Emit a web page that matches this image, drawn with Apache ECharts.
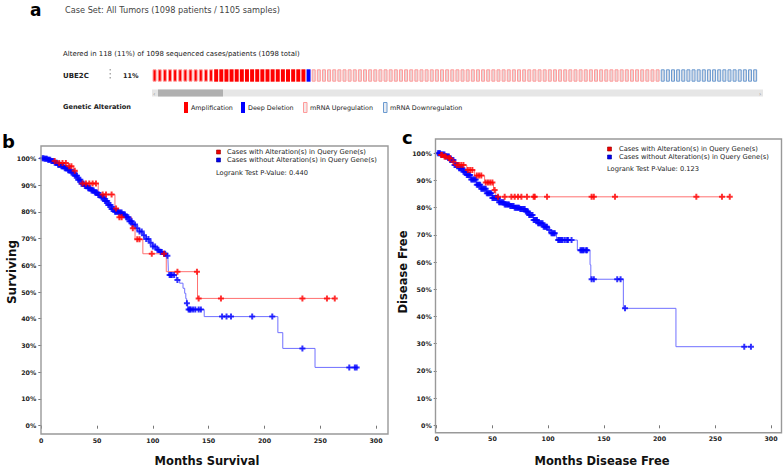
<!DOCTYPE html>
<html><head><meta charset="utf-8">
<script src="https://cdn.jsdelivr.net/npm/echarts@6/dist/echarts.min.js"></script>
<style>html,body{margin:0;padding:0;background:#fff}#c{width:784px;height:466px}</style>
</head><body><div id="c"></div>
<script>
// ---------- DATA ----------
// Oncoprint: alteration type and number of cases (118 altered)
const oncoTypes = ['ampUp', 'amp', 'deepDel', 'mrnaUp', 'mrnaDown'];
const oncoCounts = [12, 18, 1, 68, 19];

const legendA = ['Amplification', 'Deep Deletion', 'mRNA Upregulation', 'mRNA Downregulation'];
const seriesNames = ['Cases with Alteration(s) in Query Gene(s)', 'Cases without Alteration(s) in Query Gene(s)'];

const yTicks = [0, 10, 20, 30, 40, 50, 60, 70, 80, 90, 100];
const xTicks = [0, 50, 100, 150, 200, 250, 300];

// Panel b: overall survival (months, % surviving)
const bRedSteps = [[0,100],[9,99],[14,98.2],[24,97],[29,95.3],[32,92.5],[34,90.6],[51,86.5],[66,81.2],[69,78],[81,73.8],[84,69.7],[91,64.3],[112,57.6],[140,47.6],[263,47.6]];
const bRedCensor = [12,16,19,22,25,27,30,37,40,43,46,49,55,58,63,67,70,72,82,86,88,99,110,122,139.5,141,161,234,256,263];
const bBlueSteps = [[0,100],[3,99.8],[6,99.5],[9,99],[12,98.3],[15,97.6],[18,97],[21,96.3],[24,95.5],[27,94.7],[30,93.5],[33,92],[36,90.5],[39,89.6],[42,88.8],[45,88],[48,87.2],[51,86.3],[54,85.3],[57,84],[60,82.5],[63,81],[66,80],[70,79.7],[73,79],[76,78],[79,76.5],[82,75.2],[85,73.8],[88,72.6],[91,71.2],[94,69.8],[97,68.4],[100,67],[103,65.8],[106,65],[109,64.3],[112,63.6],[113.5,62.3],[114,56.4],[121,54.5],[124,53.3],[127,51.4],[128.5,49.5],[129.5,47.5],[130.3,45.8],[131.2,43.5],[146,40.8],[212,34.8],[216.4,28.9],[245.3,21.8],[282.6,21.8]];
const bBlueCensor = [1,2,3,4,5,6,7,8,9,10,11,12,13,14,15,16,17,18,19,20,21,22,23,24,25,26,27,28,29,30,31,32,33,34,35,36,37,38,39,40,41,42,43,44,45,46,47,48,49,50,51,52,53,54,55,56,57,58,59,60,61,62,63,64,65,66,67,68,69,70,71,72,73,74,75,76,77,78,79,80,81,82,84,86,88,90,92,94,96,98,100,102,104,105,107,108,110,111,113,115,116,117,119,122,130.5,132,133,134,136,138,141,143,162,166,170,189,207,234,276,281,282.6];

// Panel c: disease free (months, % disease free)
const cRedSteps = [[0,100],[3,99.4],[6,98.8],[10,98.2],[14,96.9],[17,95.7],[27,93.9],[34,91.8],[43,89.3],[51,86.5],[53,84],[263,84]];
const cRedCensor = [4,5,7,8,11,12,15,18,20,22,24,28,30,32,36,38,40,44,46,48,50,52,55,61,67,70,73,76,81,87,88,99,139,141,160,233,256,263];
const cBlueSteps = [[0,100],[4,99.6],[8,98.8],[12,97.5],[16,95.7],[20,94.5],[24,93.2],[27,92],[31,90.4],[36,88.4],[40,87],[45,85.3],[50,83.6],[56,82],[61,81.2],[66,80.6],[70,80],[75,79.5],[80,78.6],[83,77.3],[87,75.5],[91,74.3],[96,73],[100,71.8],[102,70.6],[107.5,68.1],[126.2,64.4],[137.6,59],[138.3,53.7],[167.5,43],[214.7,28.9],[282,28.9]];
const cBlueCensor = [1,2,3,4,5,6,7,8,9,10,11,12,13,14,15,16,17,18,19,20,21,22,23,24,25,26,27,28,29,30,31,32,33,34,35,36,37,38,39,40,41,42,43,44,45,46,47,48,49,50,51,52,53,54,55,56,57,58,59,60,61,62,63,64,65,66,67,68,69,70,71,72,73,74,75,76,77,78,79,80,81,82,83,84,85,86,87,88,89,90,91,92,93,94,95,96,97,98,99,101,103,104,105,106,109,110,111,112,113,115,117,118,121,129,130,131,132,134,135,139,141,162,165,169,276,282];

// ---------- RENDER ----------
const FONT = 'DejaVu Sans';
const styleOf = {
  ampUp:   {color:'#ff0000', borderColor:'#ff9a9a', borderWidth:1},
  amp:     {color:'#ff0000', borderColor:'#ff0000', borderWidth:0},
  deepDel: {color:'#0000ff', borderColor:'#0000ff', borderWidth:0},
  mrnaUp:  {color:'#ead6d6', borderColor:'#ff9a9a', borderWidth:1},
  mrnaDown:{color:'#d6dce6', borderColor:'#6b9ad0', borderWidth:1}
};
const oncoData = [];
oncoTypes.forEach((t, i) => { for (let k = 0; k < oncoCounts[i]; k++) oncoData.push({value:1, itemStyle:styleOf[t]}); });
const oncoCats = oncoData.map((d, i) => 'c' + i);

function stepAt(steps, t) {
  let v = steps[0][1];
  for (const s of steps) { if (s[0] <= t) v = s[1]; else break; }
  return v;
}
const censorPts = (steps, times) => times.map(t => [t, stepAt(steps, t)]);
const PLUS = 'path://M-1,-3H1V-1H3V1H1V3H-1V1H-3V-1H-1Z';

const tickLabel = {fontFamily:FONT, fontWeight:'bold', fontSize:6.3, color:'#222'};
function xAx(gi, max, off) {
  return {gridIndex:gi, type:'value', min:0, max:max, interval:50, offset:off,
    axisLine:{show:false}, splitLine:{show:false},
    axisTick:{show:true, length:3, lineStyle:{color:'#777'}, customValues: xTicks},
    axisLabel:Object.assign({margin:3, customValues: xTicks, formatter: v => String(v)}, tickLabel)};
}
function yAx(gi) {
  return {gridIndex:gi, type:'value', min:0, max:100, interval:10,
    axisLine:{show:false}, splitLine:{show:false},
    axisTick:{show:true, length:3, lineStyle:{color:'#777'}},
    axisLabel:Object.assign({margin:5, formatter: v => v + '%'}, tickLabel)};
}
function lineS(xi, steps, col) {
  return {type:'line', xAxisIndex:xi, yAxisIndex:xi, data:steps, step:'end', showSymbol:false,
    lineStyle:{color:col, width:1}, silent:true, animation:false, z:2};
}
function scatS(xi, pts, col) {
  return {type:'scatter', xAxisIndex:xi, yAxisIndex:xi, data:pts, symbol:PLUS, symbolSize:6,
    itemStyle:{color:col}, silent:true, animation:false, z:3};
}
function T(x, y, s, size, extra) {
  return {type:'text', x:x, y:y, style:Object.assign({text:s, fontFamily:FONT, fontSize:size, fill:'#222', textVerticalAlign:'middle'}, extra||{})};
}
function sq(x, y, w, h, fill, stroke, lw) {
  return {type:'rect', shape:{x:x, y:y, width:w, height:h}, style:{fill:fill, stroke:stroke||null, lineWidth:lw||0}};
}
const B = {fontWeight:'bold'};
const LEG = 6.7;

const graphics = [
  // panel a
  T(30, 10, 'a', 17, {fontWeight:'bold', fill:'#000'}),
  T(65, 10, 'Case Set: All Tumors (1098 patients / 1105 samples)', 8.2, {fill:'#444'}),
  T(63, 54, 'Altered in 118 (11%) of 1098 sequenced cases/patients (1098 total)', 6.95),
  T(63, 76, 'UBE2C', 7, B),
  T(123, 76, '11%', 6.5, B),
  sq(109.5, 69, 1.5, 1.5, '#aaa'), sq(109.5, 73, 1.5, 1.5, '#aaa'), sq(109.5, 77, 1.5, 1.5, '#aaa'),
  sq(152, 89.5, 611, 7, '#e6e6e6'),
  sq(158, 89.5, 65, 7, '#b0b0b0'),
  T(153, 93, '‹', 6, {fill:'#888'}),
  T(759, 93, '›', 6, {fill:'#888'}),
  T(63, 107, 'Genetic Alteration', 6.6, B),
  sq(184, 102, 4, 11, '#ff0000'),
  T(191, 108, legendA[0], 6.4),
  sq(241, 102, 4, 11, '#0000ff'),
  T(248, 108, legendA[1], 6.4),
  sq(303.5, 102.5, 3.5, 10, '#f4e8e8', '#ff9a9a', 1),
  T(310, 108, legendA[2], 6.4),
  sq(383.5, 102.5, 3.5, 10, '#e8ecf2', '#6b9ad0', 1),
  T(390, 108, legendA[3], 6.4),
  // panel b
  T(2, 141, 'b', 18, {fontWeight:'bold', fill:'#000'}),
  {type:'rect', shape:{x:41, y:146, width:347, height:288}, style:{fill:null, stroke:'#999', lineWidth:1.4}, z:10},
  sq(216.5, 150, 4, 4, '#ee0000', '#990000', 0.6),
  T(227, 152.3, seriesNames[0], LEG),
  sq(216.5, 158, 4, 4, '#0000ee', '#000099', 0.6),
  T(227, 160.3, seriesNames[1], LEG),
  T(216, 172.5, 'Logrank Test P-Value: 0.440', LEG),
  {type:'text', x:12, y:272, rotation:Math.PI/2, style:{text:'Surviving', fontFamily:FONT, fontWeight:'bold', fontSize:12, fill:'#111', textAlign:'center', textVerticalAlign:'middle'}},
  T(207, 460.5, 'Months Survival', 11.5, {fontWeight:'bold', fill:'#111', textAlign:'center'}),
  // panel c
  T(402, 137, 'c', 18, {fontWeight:'bold', fill:'#000'}),
  {type:'rect', shape:{x:435.5, y:139, width:346, height:293.7}, style:{fill:null, stroke:'#999', lineWidth:1.4}, z:10},
  sq(607.5, 147, 4, 4, '#ee0000', '#990000', 0.6),
  T(619, 149, seriesNames[0], LEG),
  sq(607.5, 155, 4, 4, '#0000ee', '#000099', 0.6),
  T(619, 157.3, seriesNames[1], LEG),
  T(607, 169.3, 'Logrank Test P-Value: 0.123', LEG),
  {type:'text', x:402.5, y:272, rotation:Math.PI/2, style:{text:'Disease Free', fontFamily:FONT, fontWeight:'bold', fontSize:11.5, fill:'#111', textAlign:'center', textVerticalAlign:'middle'}},
  T(602, 460.5, 'Months Disease Free', 11.5, {fontWeight:'bold', fill:'#111', textAlign:'center'})
];

const chart = echarts.init(document.getElementById('c'), null, {renderer:'svg', width:784, height:466});
chart.setOption({
  animation:false,
  textStyle:{fontFamily:FONT},
  grid:[
    {left:152, top:69.3, width:605.7, height:12.4, containLabel:false},
    {left:41.3, top:158.3, width:346.7, height:267.4, containLabel:false},
    {left:436.7, top:153.3, width:345, height:272, containLabel:false}
  ],
  xAxis:[
    {gridIndex:0, type:'category', data:oncoCats, show:false, boundaryGap:true},
    xAx(1, 310.7, 8.3),
    xAx(2, 309.6, 7.4)
  ],
  yAxis:[
    {gridIndex:0, type:'value', min:0, max:1, show:false},
    yAx(1), yAx(2)
  ],
  series:[
    {type:'bar', xAxisIndex:0, yAxisIndex:0, data:oncoData, barWidth:4, silent:true, animation:false},
    lineS(1, bBlueSteps, '#7070ff'),
    lineS(1, bRedSteps, '#ff7070'),
    scatS(1, censorPts(bBlueSteps, bBlueCensor), '#0000ff'),
    scatS(1, censorPts(bRedSteps, bRedCensor), '#ff0000'),
    lineS(2, cBlueSteps, '#7070ff'),
    lineS(2, cRedSteps, '#ff7070'),
    scatS(2, censorPts(cBlueSteps, cBlueCensor), '#0000ff'),
    scatS(2, censorPts(cRedSteps, cRedCensor), '#ff0000')
  ],
  graphic:graphics
});
</script></body></html>
